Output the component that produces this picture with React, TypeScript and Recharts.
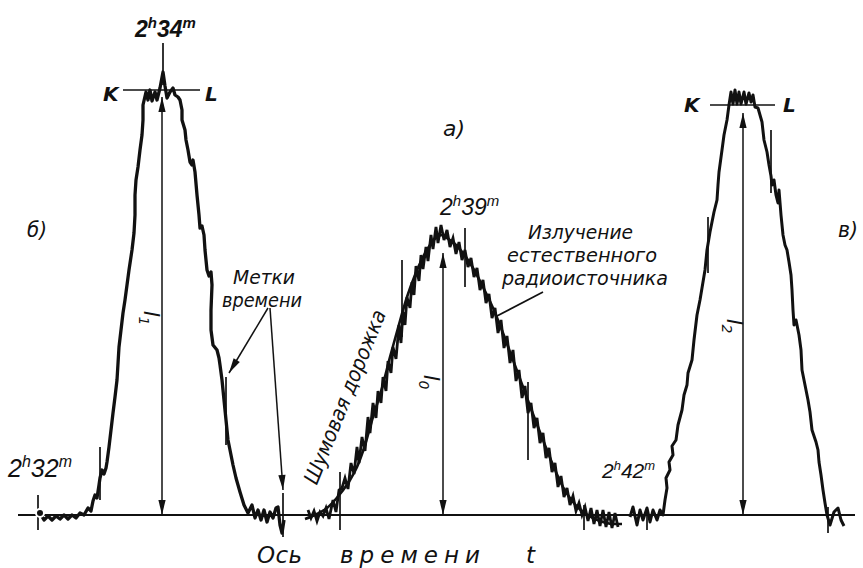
import React from 'react';
import { LineChart, Line, XAxis, YAxis, ReferenceLine, Customized } from 'recharts';

// x: position along the time axis, y: recorder deflection above the zero line
const peakB: [number, number][] = [
  [40, 2], [44, -5], [48, -1], [52, -5], [56, -1], [60, -4], [64, 0], [68, -4], [72, 0], [76, -3],
  [80, 2], [84, 0], [88, 7], [91, 4], [93, 14], [95, 20], [97, 17], [99, 30], [100, 37], [102, 45],
  [104, 41], [106, 47], [107, 53], [109, 68],
  [111, 85], [113, 102], [115, 118], [117, 135], [119, 168], [121, 185], [123, 202], [125, 215],
  [127, 230], [129, 245], [132, 265], [134, 282], [135, 300], [135, 320], [136, 335], [138, 348],
  [140, 365], [142, 380], [143, 395], [143, 410], [146, 423], [148, 415], [150, 425], [152, 414],
  [155, 423], [157, 415], [160, 427], [163, 443], [165, 429], [167, 417], [170, 423], [173, 427],
  [175, 420], [178, 418], [180, 415], [182, 405], [182, 395], [185, 385], [186, 375], [188, 365],
  [190, 353], [192, 350], [193, 355], [195, 343], [197, 320], [199, 300], [200, 287], [202, 289],
  [204, 280], [205, 265], [207, 245], [209, 239], [211, 243], [212, 230], [211, 205], [211, 185],
  [213, 170], [217, 165], [219, 157], [220, 150], [222, 135], [224, 115], [226, 95], [228, 75],
  [230, 65], [233, 50], [236, 37], [240, 23], [244, 10], [248, 2], [252, 10], [255, -3], [258, 5],
  [261, -5], [264, 5], [267, -7], [270, 3], [273, -3], [276, 7], [278, 8], [280, -10], [282, -18],
  [284, -5],
];

const noisyA: [number, number][] = [
  [308, 5], [311, -3], [314, 4], [317, -6], [320, 3], [323, -1], [326, 7], [329, -4], [333, 15],
  [336, 3], [339, 25], [342, 27], [345, 37], [348, 26], [351, 52], [354, 41], [357, 68], [359, 52],
  [362, 78], [365, 64], [368, 98], [370, 82], [373, 112], [376, 97], [378, 124], [381, 112],
  [383, 138], [386, 124], [388, 154], [391, 142], [393, 168], [396, 156], [399, 190], [401, 172],
  [403, 203], [405, 190], [407, 218], [410, 207], [412, 233], [414, 220], [416, 249], [419, 234],
  [421, 260], [423, 246], [426, 268], [428, 254], [431, 280], [433, 266], [436, 288], [438, 272],
  [441, 290], [444, 275], [447, 285], [450, 268], [453, 277], [456, 261], [459, 273], [462, 255],
  [465, 265], [468, 248], [471, 257], [474, 238], [477, 247], [480, 225], [483, 235], [486, 212],
  [489, 221], [492, 197], [495, 207], [498, 182], [501, 195], [504, 167], [507, 179], [510, 152],
  [513, 165], [516, 134], [519, 145], [522, 117], [525, 129], [528, 102], [531, 112], [534, 87],
  [537, 97], [540, 72], [543, 82], [546, 57], [549, 67], [552, 43], [555, 52], [558, 28], [561, 39],
  [564, 18], [567, 27], [570, 10], [573, 19], [576, 4], [579, 12], [582, 0], [585, 8], [588, -6],
  [591, 7], [594, -9], [597, 5], [600, -11], [603, 5], [606, -12], [609, 3], [612, -13], [615, 2],
  [618, -12],
];

const smoothA: [number, number][] = [
  [305, -4], [317, 1], [327, 7], [340, 21], [350, 35], [357, 48], [365, 70], [373, 98], [382, 127],
  [390, 158], [398, 187], [407, 218], [415, 240], [423, 258], [430, 270], [437, 278], [442, 280],
  [447, 277], [455, 271], [463, 262], [473, 247], [483, 228], [493, 207], [503, 182], [513, 155],
  [523, 128], [533, 101], [543, 75], [553, 50], [563, 28], [573, 13], [583, 3], [593, -3],
  [603, -7], [613, -9], [622, -9],
];

const peakV: [number, number][] = [
  [630, -2], [633, 8], [637, -10], [640, 5], [643, -5], [647, 7], [650, -7], [653, 5], [657, -5],
  [660, 5], [663, 0], [665, 15], [667, 27], [666, 37], [670, 45], [669, 53], [673, 60], [672, 69],
  [676, 75], [678, 90], [682, 105], [684, 120], [687, 130], [688, 142], [692, 155], [694, 175],
  [697, 200], [700, 215], [702, 227], [705, 245], [707, 265], [710, 283], [712, 293], [714, 303],
  [717, 315], [718, 330], [719, 343], [722, 365], [724, 380], [727, 395], [729, 410], [731, 423],
  [733, 411], [735, 425], [737, 411], [739, 423], [741, 411], [744, 423], [746, 411], [749, 422],
  [751, 413], [753, 420], [755, 408], [758, 407], [760, 400], [762, 393], [764, 375], [767, 363],
  [769, 350], [771, 339], [772, 330], [774, 335], [776, 320], [778, 312], [779, 325], [781, 300],
  [783, 280], [785, 270], [787, 265], [789, 253], [791, 240], [792, 225], [793, 205], [794, 190],
  [796, 195], [799, 180], [801, 165], [802, 145], [804, 135], [806, 125], [808, 115], [810, 103],
  [812, 85], [814, 79], [816, 73], [818, 65], [819, 53], [821, 40], [823, 25], [825, 12], [827, 0],
  [830, -10], [834, 3], [838, 7], [841, -5], [844, -11],
];

// time marks: [x, bottom, top]
const timeMarks: [number, number, number][] = [
  [38, -15, 20], [100, 15, 68], [163, 430, 472], [226, 70, 138], [283, -22, 22],
  [340, -15, 43], [402, 178, 255], [465, 228, 287], [528, 55, 133], [584, -15, 10],
  [647, -15, 8], [708, 242, 298], [771, 322, 385], [828, -18, 8],
];

// amplitude arrows l1, l0, l2: [x, top]
const amplitudes: [number, number][] = [[162, 418], [443, 262], [743, 402]];

// K–L levels: [x1, x2, y]
const levels: [number, number, number][] = [[123, 200, 425], [710, 775, 410]];

// leader arrows "Метки времени": [x1, y1, x2, y2]
const leaders: [number, number, number, number][] = [
  [268, 207, 229, 142],
  [270, 207, 283, 25],
];
const pointer: [number, number, number, number] = [543, 223, 495, 198];

const pts = (a: [number, number][]) => a.map(([x, y]) => ({ x, y }));

const INK = '#111';
const FONT = "'DejaVu Sans', 'Liberation Sans', sans-serif";

const head = (x: number, y: number, a: number, key: string) => {
  const L = 15;
  const W = 3.6;
  const bx = x - L * Math.cos(a);
  const by = y - L * Math.sin(a);
  const px = W * Math.sin(a);
  const py = -W * Math.cos(a);
  return (
    <polygon key={key} points={`${x},${y} ${bx + px},${by + py} ${bx - px},${by - py}`} fill={INK} />
  );
};

const arrowShape = (both: boolean) => (props: any) => {
  const { x1, y1, x2, y2 } = props;
  const a = Math.atan2(y2 - y1, x2 - x1);
  return (
    <g>
      <line x1={x1} y1={y1} x2={x2} y2={y2} stroke={INK} strokeWidth={1.5} />
      {head(x2, y2, a, 'e')}
      {both && head(x1, y1, a + Math.PI, 's')}
    </g>
  );
};

// time stamp like 2ʰ34ᵐ in a narrower face, natural widths
const Stamp = ({ x, y, h, m, size = 22, bold = false }: any) => {
  const up = Math.round(size * 0.4);
  const small = Math.round(size * 0.64);
  return (
    <text x={x} y={y} fontSize={size} fontFamily="'Liberation Sans', Arimo, sans-serif"
      fontWeight={bold ? 'bold' : 'normal'}>
      {h}
      <tspan dy={-up} fontSize={small}>h</tspan>
      <tspan dy={up}>{m}</tspan>
      <tspan dy={-up} fontSize={small}>m</tspan>
    </text>
  );
};

const Labels = () => (
  <g fontFamily={FONT} fontStyle="italic" fill={INK}>
    <Stamp x={135} y={37} h="2" m="34" size={23} bold />
    <Stamp x={440} y={215} h="2" m="39" size={23} />
    <Stamp x={8} y={477} h="2" m="32" size={25} />
    <Stamp x={602} y={478} h="2" m="42" size={21} />

    <text x={103} y={101} fontSize={20} fontWeight="bold">K</text>
    <text x={205} y={101} fontSize={20} fontWeight="bold">L</text>
    <text x={684} y={112} fontSize={20} fontWeight="bold">K</text>
    <text x={783} y={112} fontSize={20} fontWeight="bold">L</text>

    <text x={443} y={136} fontSize={22} textLength={22} lengthAdjust="spacingAndGlyphs">a)</text>
    <text x={27} y={237} fontSize={22} textLength={20} lengthAdjust="spacingAndGlyphs">б)</text>
    <text x={838} y={237} fontSize={22} textLength={20} lengthAdjust="spacingAndGlyphs">в)</text>

    <text x={233} y={284} fontSize={19} textLength={62} lengthAdjust="spacingAndGlyphs">Метки</text>
    <text x={222} y={307} fontSize={19} textLength={80} lengthAdjust="spacingAndGlyphs">времени</text>

    <text x={528} y={239} fontSize={19} textLength={105} lengthAdjust="spacingAndGlyphs">Излучение</text>
    <text x={507} y={262} fontSize={19} textLength={150} lengthAdjust="spacingAndGlyphs">естественного</text>
    <text x={502} y={285} fontSize={19} textLength={166} lengthAdjust="spacingAndGlyphs">радиоисточника</text>

    <text transform="translate(345,397) rotate(-68)" x={0} y={7} fontSize={21} textAnchor="middle"
      textLength={186} lengthAdjust="spacingAndGlyphs">Шумовая дорожка</text>

    <text transform="translate(150,318) rotate(90)" x={0} y={6} fontSize={21} textAnchor="middle">
      l<tspan dy={5} fontSize={14}>1</tspan>
    </text>
    <text transform="translate(430,382) rotate(90)" x={0} y={6} fontSize={21} textAnchor="middle">
      l<tspan dy={5} fontSize={14}>0</tspan>
    </text>
    <text transform="translate(733,326) rotate(90)" x={0} y={6} fontSize={21} textAnchor="middle">
      l<tspan dy={5} fontSize={14}>2</tspan>
    </text>

    <text x={257} y={563} fontSize={23} textLength={45} lengthAdjust="spacing">Ось</text>
    <text x={340} y={563} fontSize={23} textLength={140} lengthAdjust="spacing">времени</text>
    <text x={526} y={563} fontSize={23}>t</text>
  </g>
);

export default function App() {
  return (
    <div style={{ position: 'absolute', left: 0, top: 0, background: '#fff' }}>
      <LineChart width={863} height={568} margin={{ top: 0, right: 0, bottom: 0, left: 0 }}>
        <XAxis dataKey="x" type="number" domain={[0, 863]} allowDataOverflow hide />
        <YAxis type="number" domain={[-53, 515]} allowDataOverflow hide />

        <ReferenceLine segment={[{ x: 18, y: 0 }, { x: 855, y: 0 }]} stroke={INK} strokeWidth={2} />

        {timeMarks.map(([x, y1, y2], i) => (
          <ReferenceLine key={`t${i}`} segment={[{ x, y: y1 }, { x, y: y2 }]} stroke={INK} strokeWidth={1.7} />
        ))}
        {levels.map(([x1, x2, y], i) => (
          <ReferenceLine key={`k${i}`} segment={[{ x: x1, y }, { x: x2, y }]} stroke={INK} strokeWidth={1.7} />
        ))}
        {amplitudes.map(([x, top], i) => (
          <ReferenceLine key={`l${i}`} segment={[{ x, y: 0 }, { x, y: top }]} shape={arrowShape(true)} />
        ))}
        {leaders.map(([x1, y1, x2, y2], i) => (
          <ReferenceLine key={`m${i}`} segment={[{ x: x1, y: y1 }, { x: x2, y: y2 }]} shape={arrowShape(false)} />
        ))}
        <ReferenceLine segment={[{ x: pointer[0], y: pointer[1] }, { x: pointer[2], y: pointer[3] }]}
          stroke={INK} strokeWidth={1.7} />

        <Line data={pts(smoothA)} dataKey="y" type="monotone" stroke={INK} strokeWidth={2.6}
          dot={false} isAnimationActive={false} />
        <Line data={pts(noisyA)} dataKey="y" type="linear" stroke={INK} strokeWidth={2.8}
          strokeLinejoin="miter" dot={false} isAnimationActive={false} />
        <Line data={pts(peakB)} dataKey="y" type="linear" stroke={INK} strokeWidth={3.3}
          strokeLinejoin="round" dot={false} isAnimationActive={false} />
        <Line data={pts(peakV)} dataKey="y" type="linear" stroke={INK} strokeWidth={3}
          strokeLinejoin="round" dot={false} isAnimationActive={false} />

        <Customized component={Labels} />
      </LineChart>
    </div>
  );
}
